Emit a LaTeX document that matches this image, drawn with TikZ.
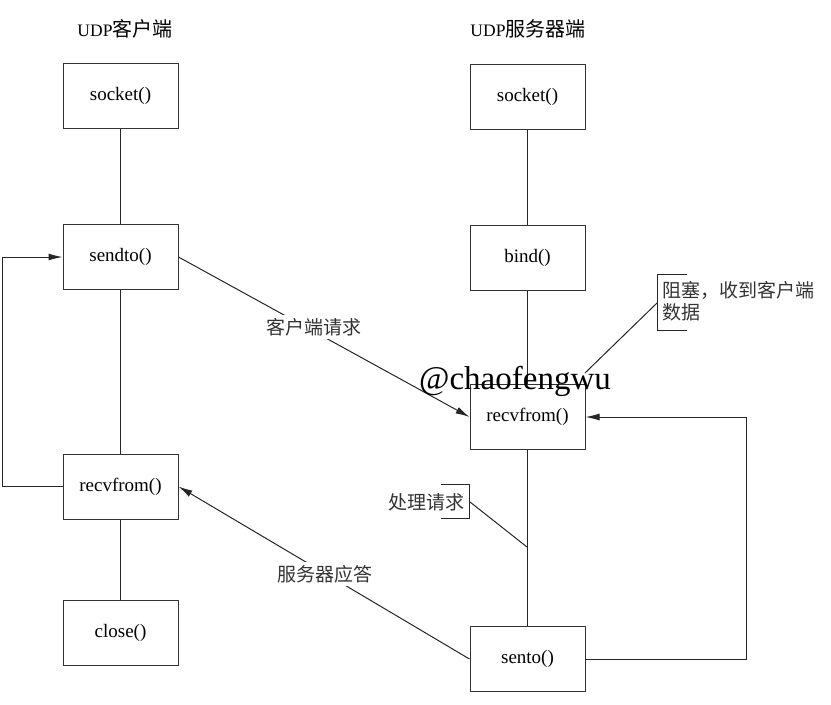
\documentclass[tikz,border=0pt]{standalone}
\usepackage{fontspec}
\setmainfont{Liberation Serif}
\newfontfamily\cjk{Noto Sans CJK SC}
\usetikzlibrary{arrows.meta}
\tikzset{
  fn/.style={draw=black!80, line width=1pt, minimum width=115pt, minimum height=65pt,
    inner sep=0pt, font=\fontsize{19}{22}\selectfont},
  conn/.style={draw=black!85, line width=1pt},
  arr/.style={conn, -{Latex[length=14pt,width=7pt]}},
  lbl/.style={font=\cjk\fontsize{19}{22}\selectfont, text=black!80},
  cut/.style={lbl, fill=white, inner sep=3pt},
  ttl/.style={font=\fontsize{17.5}{20}\selectfont},
}
\begin{document}
\begin{tikzpicture}[x=1pt,y=-1pt]
\useasboundingbox (0,0) rectangle (831,705);
% titles
\node[ttl] (t1) at (125,29) {UDP{\cjk\fontsize{20}{20}\selectfont 客户端}};
\node[ttl] (t2) at (528,29) {UDP{\cjk\fontsize{20}{20}\selectfont 服务器端}};
% client boxes
\node[fn] (csock) at (120.5,96) {socket()};
\node[fn] (csend) at (120.5,257) {sendto()};
\node[fn] (crecv) at (120.5,486.5) {recvfrom()};
\node[fn] (cclose) at (120.5,633) {close()};
% server boxes
\node[fn] (ssock) at (527.5,96.5) {socket()};
\node[fn] (sbind) at (527.5,257.5) {bind()};
\node[fn] (srecv) at (527.5,417) {recvfrom()};
\node[fn] (ssento) at (527.5,659) {sento()};
% vertical links
\draw[conn] (csock) -- (csend);
\draw[conn] (csend) -- (crecv);
\draw[conn] (crecv) -- (cclose);
\draw[conn] (ssock) -- (sbind);
\draw[conn] (sbind) -- (srecv);
\draw[conn] (srecv) -- (ssento);
% loops
\coordinate (lloop) at (2,486.5);
\draw[arr] (crecv.west) -- (lloop) |- (csend.west);
\coordinate (rloop) at (746,659);
\draw[arr] (ssento.east) -- (rloop) |- (srecv.east);
% cross messages
\draw[arr] (csend.east) -- (srecv.west);
\draw[arr] (ssento.west) -- (crecv.east);
\node[cut] (req) at (314,327) {客户端请求};
\node[cut] (resp) at (325,574) {服务器应答};
% annotation: blocking
\node[lbl, anchor=north west, align=left, inner sep=0pt] (blk) at (662,281) {阻塞，收到客户端\\数据};
\draw[conn] (687,274) -- (657,274) -- (657,330) -- (687,330);
\coordinate (blkfrom) at (657,303);
\coordinate (blkto) at (585,373);
\draw[conn] (blkfrom) -- (blkto);
% annotation: processing
\node[lbl, anchor=east, inner sep=0pt] (proc) at (465,502) {处理请求};
\draw[conn] (441,484) -- (469,484) -- (469,518) -- (441,518);
\coordinate (procfrom) at (470,502);
\coordinate (procto) at (527,547);
\draw[conn] (procfrom) -- (procto);
% watermark
\node[font=\fontsize{33}{36}\selectfont, anchor=base, inner sep=0pt] (wm) at (515,389) {@chaofengwu};
\end{tikzpicture}
\end{document}
